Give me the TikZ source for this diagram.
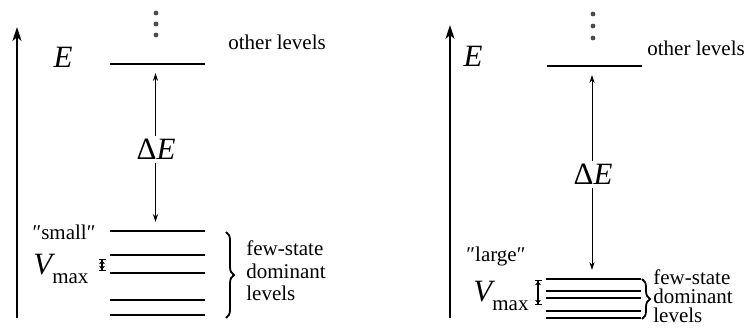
\documentclass[tikz,border=0pt]{standalone}
\usepackage{fontspec}
\setmainfont{LiberationSerif}[Extension=.ttf, UprightFont=*-Regular, ItalicFont=*-Italic,
  BoldFont=*-Bold, BoldItalicFont=*-BoldItalic]
\usetikzlibrary{arrows.meta, decorations.pathreplacing}
\newcommand{\Vmaxlabel}{{\fontsize{15.5}{16}\selectfont\itshape V}\raisebox{-4.5pt}{\fontsize{10.5}{11}\selectfont max}}

\begin{document}
\begin{tikzpicture}[x=0.5pt, y=-0.5pt,
      every node/.style={font=\fontsize{10.5}{11}\selectfont, inner sep=0pt},
      energyaxis/.style={line width=1.1pt, -{Stealth[length=7pt, width=4.5pt, inset=2pt]}},
      level/.style={line width=1.1pt},
      gap/.style={line width=0.5pt, shorten >=4.5pt, -{Stealth[length=4pt, width=2.6pt]}},
      bigsym/.style={font=\fontsize{15.5}{16}\selectfont},
      vrange/.style={line width=0.6pt,
        {Bar[width=3.5pt]Stealth[length=2pt, width=3pt]}-{Stealth[length=2pt, width=3pt]Bar[width=3.5pt]}},
      bracket/.style={line width=0.9pt, decorate, decoration={brace, amplitude=4pt}},
      dot/.style={circle, fill=black!70, minimum size=2.4pt}]
    \useasboundingbox (0,0) rectangle (750,331);

    \coordinate (axL0) at (17,318);
    \coordinate (axL1) at (17,27);
    \draw[energyaxis] (axL0) -- (axL1);
    \node[bigsym, anchor=base] (EL) at (63,68) {\textit{E}};
    \foreach \y [count=\i] in {13,24,35}
      \node[dot] (dotL\i) at (156,\y) {};
    \draw[level] (110,64) -- (205,64);
    \node[anchor=base west] (otherL) at (228,50) {other levels};
    \foreach \y [count=\i] in {231,255,273,300,315}
      \draw[level] (110,\y) -- (205,\y) coordinate (lowL\i);
    \coordinate (topL) at (155.5,64);
    \coordinate (botL) at (155.5,231);
    \node[bigsym, anchor=base, inner sep=1.5pt] (dEL) at (156,160) {Δ\textit{E}};
    \draw[gap] (dEL.north -| topL) -- (topL);
    \draw[gap] (dEL.south -| botL) -- (botL);
    \node[anchor=base] (smallL) at (64,240) {″small″};
    \node[anchor=base west] (VL) at (33,275) {\Vmaxlabel};
    \coordinate (vL0) at (102,259);
    \coordinate (vL1) at (102,271);
    \draw[vrange] (vL0) -- (vL1);
    \coordinate (brL0) at (226,232);
    \coordinate (brL1) at (226,318);
    \draw[bracket] (brL0) -- (brL1);
    \node[anchor=west, align=left, font=\fontsize{10.5}{11.25}\selectfont] (fewL) at (246,271)
      {few-state\\dominant\\levels};

    \coordinate (axR0) at (450,318);
    \coordinate (axR1) at (450,25);
    \draw[energyaxis] (axR0) -- (axR1);
    \node[bigsym, anchor=base] (ER) at (473,67) {\textit{E}};
    \foreach \y [count=\i] in {14,26,38}
      \node[dot] (dotR\i) at (593,\y) {};
    \draw[level] (547,66) -- (642,66);
    \node[anchor=base west] (otherR) at (647,56) {other levels};
    \foreach \y [count=\i] in {279,291,298,311,318}
      \draw[level] (546,\y) -- (641,\y) coordinate (lowR\i);
    \coordinate (topR) at (592,66);
    \coordinate (botR) at (592,279);
    \node[bigsym, anchor=base, inner sep=1.5pt] (dER) at (593,185) {Δ\textit{E}};
    \draw[gap] (dER.north -| topR) -- (topR);
    \draw[gap] (dER.south -| botR) -- (botR);
    \node[anchor=base] (largeR) at (496,262) {″large″};
    \node[anchor=base west] (VR) at (473,302) {\Vmaxlabel};
    \coordinate (vR0) at (538,280);
    \coordinate (vR1) at (538,305);
    \draw[vrange] (vR0) -- (vR1);
    \coordinate (brR0) at (642,279);
    \coordinate (brR1) at (642,319);
    \draw[bracket] (brR0) -- (brR1);
    \node[anchor=west, align=left, font=\fontsize{10.5}{9.5}\selectfont] (fewR) at (653,296)
      {few-state\\dominant\\levels};
\end{tikzpicture}
\end{document}
